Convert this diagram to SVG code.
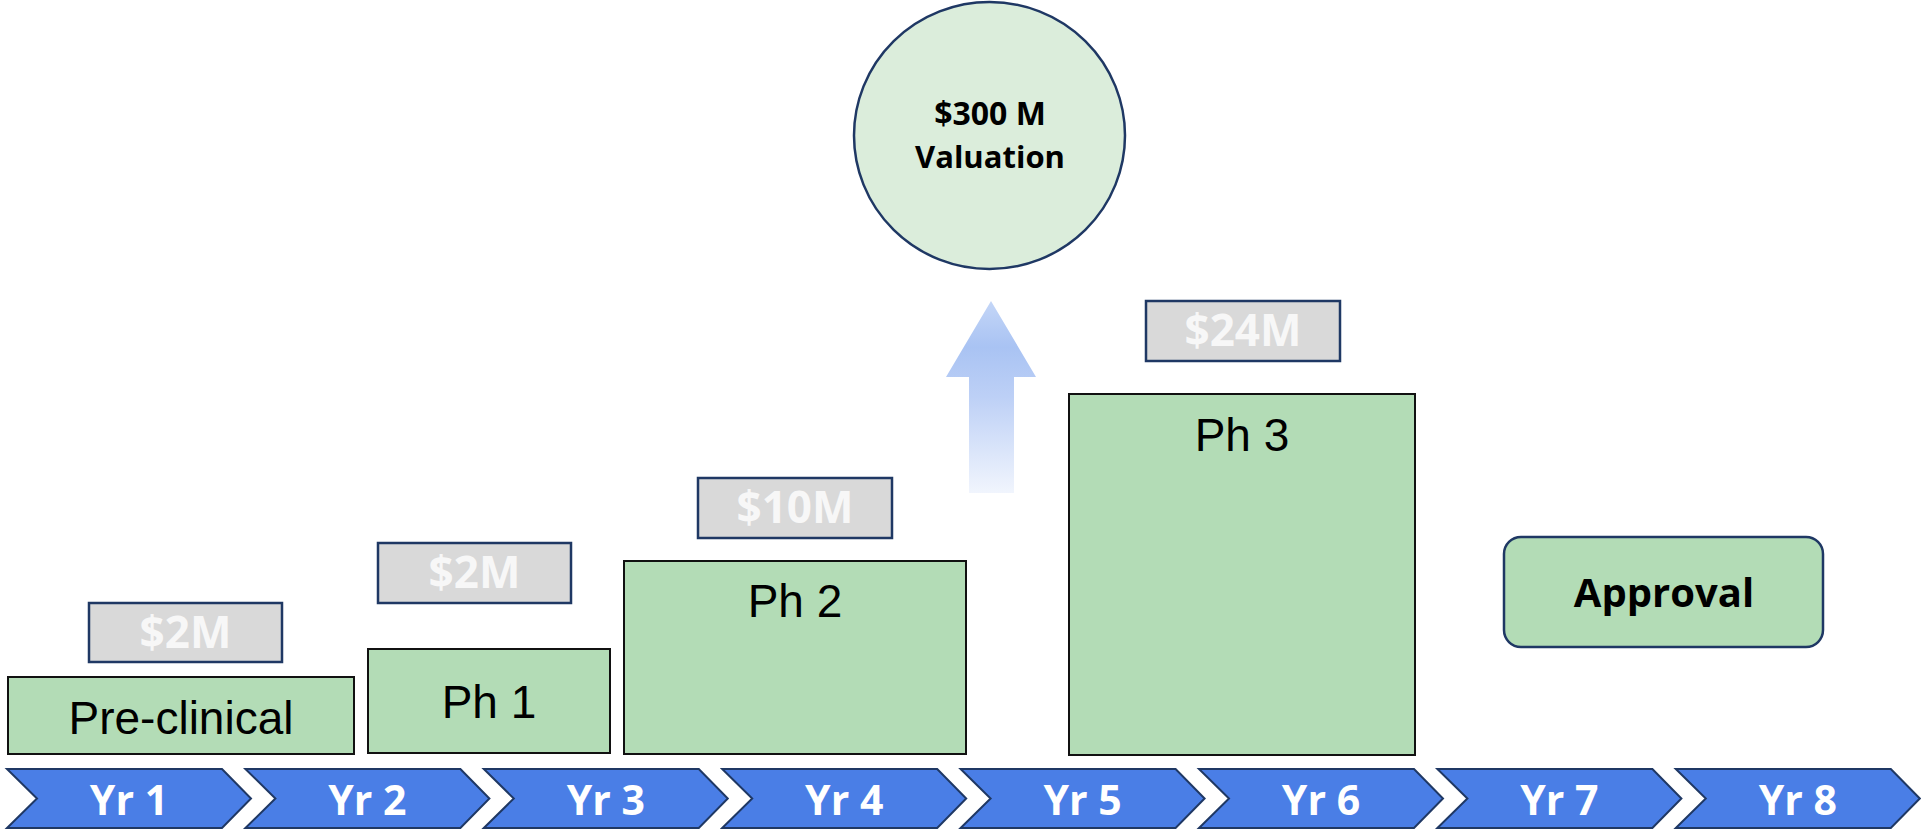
<svg xmlns="http://www.w3.org/2000/svg" width="1921" height="832" viewBox="0 0 1921 832">
<style>
.phase{fill:#b3dcb6;stroke:#111;stroke-width:2}
.ptxt{font-family:"Liberation Sans",Arial,sans-serif;font-size:46px;fill:#000;text-anchor:middle}
.cost{fill:#d9d9d9;stroke:#1f3864;stroke-width:2.5}
.ctxt{font-family:"Open Sans","Noto Sans",sans-serif;font-weight:700;font-size:44px;fill:#f7f7f7;text-anchor:middle}
.chev{fill:#4a7ee6;stroke:#1f3864;stroke-width:2}
.ytxt{font-family:"Open Sans","Noto Sans",sans-serif;font-weight:700;font-size:41px;fill:#fff;text-anchor:middle}
.btxt{font-family:"Open Sans","Noto Sans",sans-serif;font-weight:700;fill:#000;text-anchor:middle}
</style>
<defs>
<linearGradient id="upg" x1="0" y1="0" x2="0" y2="1">
<stop offset="0" stop-color="#c4d6f7"/>
<stop offset="0.24" stop-color="#a9c3f3"/>
<stop offset="0.5" stop-color="#bdd0f6"/>
<stop offset="1" stop-color="#f1f5fd"/>
</linearGradient>
</defs>

<g id="valuation">
<ellipse cx="989.5" cy="135.5" rx="135.5" ry="133.5" fill="#dbeddb" stroke="#1f3864" stroke-width="2.5"/>
<text class="btxt" x="990" y="125" font-size="32">$300 M</text>
<text class="btxt" x="990" y="168" font-size="31">Valuation</text>
</g>

<g id="connectors">
<polygon points="991,301 1036,377 1014,377 1014,493 969,493 969,377 946,377" fill="url(#upg)"/>
</g>

<g id="preclinical">
<rect class="phase" x="8" y="677" width="346" height="77"/>
<text class="ptxt" x="181" y="734" font-size="49">Pre-clinical</text>
</g>
<g id="cost-preclinical">
<rect class="cost" x="89" y="603" width="193" height="59"/>
<text class="ctxt" x="185.5" y="648">$2M</text>
</g>

<g id="ph1">
<rect class="phase" x="368" y="649" width="242" height="104"/>
<text class="ptxt" x="489" y="718">Ph 1</text>
</g>
<g id="cost-ph1">
<rect class="cost" x="378" y="543" width="193" height="60"/>
<text class="ctxt" x="474.5" y="588">$2M</text>
</g>

<g id="ph2">
<rect class="phase" x="624" y="561" width="342" height="193"/>
<text class="ptxt" x="795" y="617">Ph 2</text>
</g>
<g id="cost-ph2">
<rect class="cost" x="698" y="478" width="194" height="60"/>
<text class="ctxt" x="795" y="523">$10M</text>
</g>

<g id="ph3">
<rect class="phase" x="1069" y="394" width="346" height="361"/>
<text class="ptxt" x="1242" y="451">Ph 3</text>
</g>
<g id="cost-ph3">
<rect class="cost" x="1146" y="301" width="194" height="60"/>
<text class="ctxt" x="1243" y="346">$24M</text>
</g>

<g id="approval">
<rect x="1504" y="537" width="319" height="110" rx="17" fill="#b3dcb6" stroke="#1f3864" stroke-width="2.5"/>
<text class="btxt" x="1664" y="607" font-size="40">Approval</text>
</g>

<g id="timeline">
<g id="yr1"><polygon class="chev" points="7,769 222,769 251,798.5 222,828 7,828 37,798.5"/><text class="ytxt" x="129" y="815">Yr 1</text></g>
<g id="yr2"><polygon class="chev" points="245.4,769 460.4,769 489.4,798.5 460.4,828 245.4,828 275.4,798.5"/><text class="ytxt" x="367.4" y="815">Yr 2</text></g>
<g id="yr3"><polygon class="chev" points="483.8,769 698.8,769 727.8,798.5 698.8,828 483.8,828 513.8,798.5"/><text class="ytxt" x="605.8" y="815">Yr 3</text></g>
<g id="yr4"><polygon class="chev" points="722.2,769 937.2,769 966.2,798.5 937.2,828 722.2,828 752.2,798.5"/><text class="ytxt" x="844.2" y="815">Yr 4</text></g>
<g id="yr5"><polygon class="chev" points="960.6,769 1175.6,769 1204.6,798.5 1175.6,828 960.6,828 990.6,798.5"/><text class="ytxt" x="1082.6" y="815">Yr 5</text></g>
<g id="yr6"><polygon class="chev" points="1199,769 1414,769 1443,798.5 1414,828 1199,828 1229,798.5"/><text class="ytxt" x="1321" y="815">Yr 6</text></g>
<g id="yr7"><polygon class="chev" points="1437.4,769 1652.4,769 1681.4,798.5 1652.4,828 1437.4,828 1467.4,798.5"/><text class="ytxt" x="1559.4" y="815">Yr 7</text></g>
<g id="yr8"><polygon class="chev" points="1675.8,769 1890.8,769 1919.8,798.5 1890.8,828 1675.8,828 1705.8,798.5"/><text class="ytxt" x="1797.8" y="815">Yr 8</text></g>
</g>
</svg>
